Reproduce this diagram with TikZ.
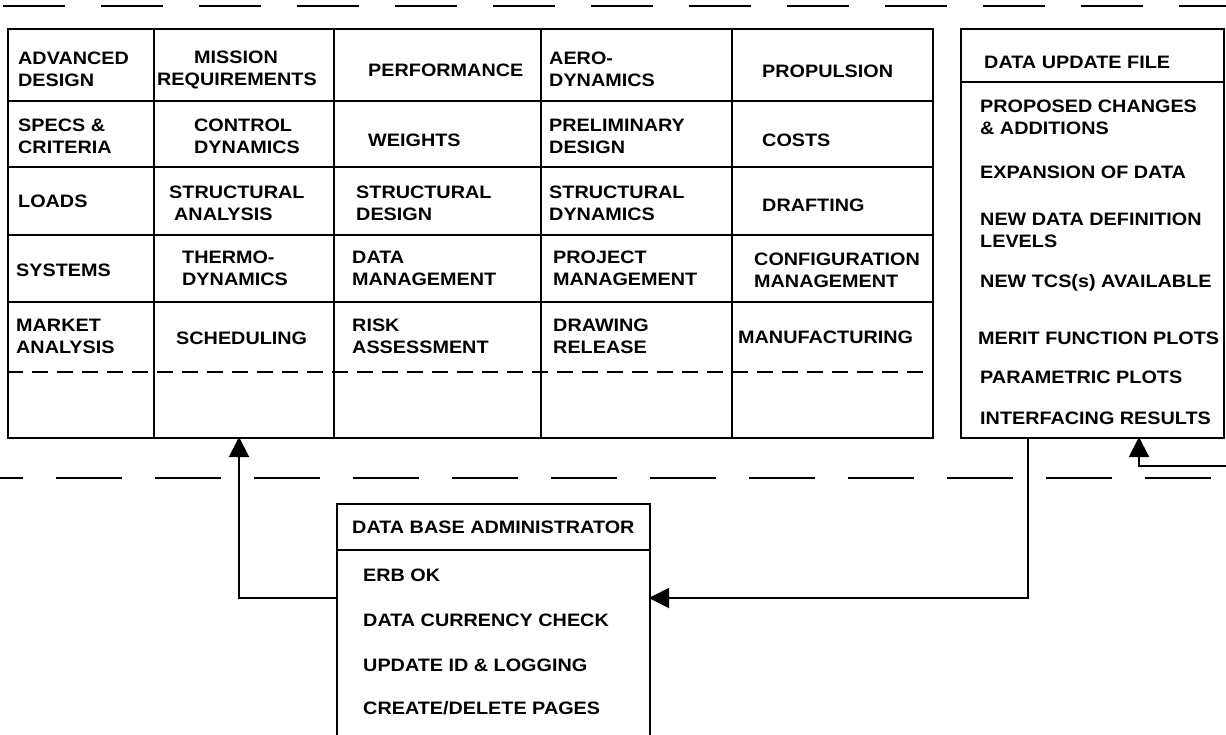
\documentclass[tikz,border=0pt]{standalone}
\usepackage{fontspec}
\setmainfont{Liberation Sans}[FakeStretch=1.1]
\usetikzlibrary{arrows.meta}
\begin{document}
\begin{tikzpicture}[x=1pt,y=-1pt,
  lbl/.style={anchor=west,align=left,inner sep=0pt,font=\bfseries\fontsize{18}{22}\selectfont},
  boxline/.style={line width=2pt},
  sepline/.style={line width=2.6pt,dash pattern=on 62pt off 36pt},
  sepline2/.style={line width=2.6pt,dash pattern=on 66pt off 33pt},
  rowdash/.style={line width=1.8pt,dash pattern=on 16pt off 9pt},
  conn/.style={line width=2pt,-{Triangle[length=20pt,width=20pt]}},
  panel/.style={draw,line width=2pt,inner sep=0pt,anchor=north west}
]
\useasboundingbox (0,0) rectangle (1226,734);
\fill[white] (0,0) rectangle (1226,734);
\clip (0,0) rectangle (1226,734);

% separators
\draw[sepline] (3,6) -- (1240,6);
\draw[sepline2] (-43,478) -- (1240,478);

% main grid
\node[panel,minimum width=925pt,minimum height=409pt] (grid) at (7,28) {};
\foreach \x in {154,334,541,732} \draw[boxline] (\x,28) -- (\x,437);
\foreach \y in {101,167,235,302} \draw[boxline] (7,\y) -- (932,\y);
\draw[rowdash] (7,372) -- (932,372);

% data update file
\node[panel,minimum width=263pt,minimum height=409pt] (duf) at (960,28) {};
\draw[boxline] (960,82) -- (1223,82);

% data base administrator
\node[panel,minimum width=313pt,minimum height=270pt] (dba) at (336,503) {};
\draw[boxline] (336,550) -- (649,550);

% connectors
\coordinate (gin) at (239,437);
\coordinate (dbaW) at (336,598);
\coordinate (dbaE) at (649,598);
\coordinate (dufOut) at (1028,437);
\coordinate (dufIn) at (1139,437);
\coordinate (feed) at (1240,466);
\draw[conn] (dbaW) -| (gin);
\draw[conn] (dufOut) |- (dbaE);
\draw[conn] (feed) -| (dufIn);

% row 1
\node[lbl] (c11) at (18,69.5) {ADVANCED\\DESIGN};
\node[lbl] (c12) at (157,69.5) {\hspace*{37pt}MISSION\\REQUIREMENTS};
\node[lbl] (c13) at (368,70) {PERFORMANCE};
\node[lbl] (c14) at (549,69.5) {AERO-\\DYNAMICS};
\node[lbl] (c15) at (762,71) {PROPULSION};
% row 2
\node[lbl] (c21) at (18,136) {SPECS \&\\CRITERIA};
\node[lbl] (c22) at (194,136) {CONTROL\\DYNAMICS};
\node[lbl] (c23) at (368,140) {WEIGHTS};
\node[lbl] (c24) at (549,136) {PRELIMINARY\\DESIGN};
\node[lbl] (c25) at (762,140) {COSTS};
% row 3
\node[lbl] (c31) at (18,201) {LOADS};
\node[lbl] (c32) at (169,203) {STRUCTURAL\\\hspace*{5pt}ANALYSIS};
\node[lbl] (c33) at (356,203) {STRUCTURAL\\DESIGN};
\node[lbl] (c34) at (549,203) {STRUCTURAL\\DYNAMICS};
\node[lbl] (c35) at (762,205) {DRAFTING};
% row 4
\node[lbl] (c41) at (16,270) {SYSTEMS};
\node[lbl] (c42) at (182,268) {THERMO-\\DYNAMICS};
\node[lbl] (c43) at (352,268) {DATA\\MANAGEMENT};
\node[lbl] (c44) at (553,268) {PROJECT\\MANAGEMENT};
\node[lbl] (c45) at (754,270) {CONFIGURATION\\MANAGEMENT};
% row 5
\node[lbl] (c51) at (16,336) {MARKET\\ANALYSIS};
\node[lbl] (c52) at (176,338) {SCHEDULING};
\node[lbl] (c53) at (352,336) {RISK\\ASSESSMENT};
\node[lbl] (c54) at (553,336) {DRAWING\\RELEASE};
\node[lbl] (c55) at (738,337) {MANUFACTURING};

% data update file texts
\node[lbl] (d0) at (984,62) {DATA UPDATE FILE};
\node[lbl] (d1) at (980,117) {PROPOSED CHANGES\\\& ADDITIONS};
\node[lbl] (d2) at (980,172) {EXPANSION OF DATA};
\node[lbl] (d3) at (980,230) {NEW DATA DEFINITION\\LEVELS};
\node[lbl] (d4) at (980,283) {NEW TCS(s) AVAILABLE};
\node[lbl] (d5) at (978,338) {MERIT FUNCTION PLOTS};
\node[lbl] (d6) at (980,377) {PARAMETRIC PLOTS};
\node[lbl] (d7) at (980,418) {INTERFACING RESULTS};

% administrator texts
\node[lbl] (a0) at (352,527) {DATA BASE ADMINISTRATOR};
\node[lbl] (a1) at (363,575) {ERB OK};
\node[lbl] (a2) at (363,620) {DATA CURRENCY CHECK};
\node[lbl] (a3) at (363,665) {UPDATE ID \& LOGGING};
\node[lbl] (a4) at (363,708) {CREATE/DELETE PAGES};
\end{tikzpicture}
\end{document}
